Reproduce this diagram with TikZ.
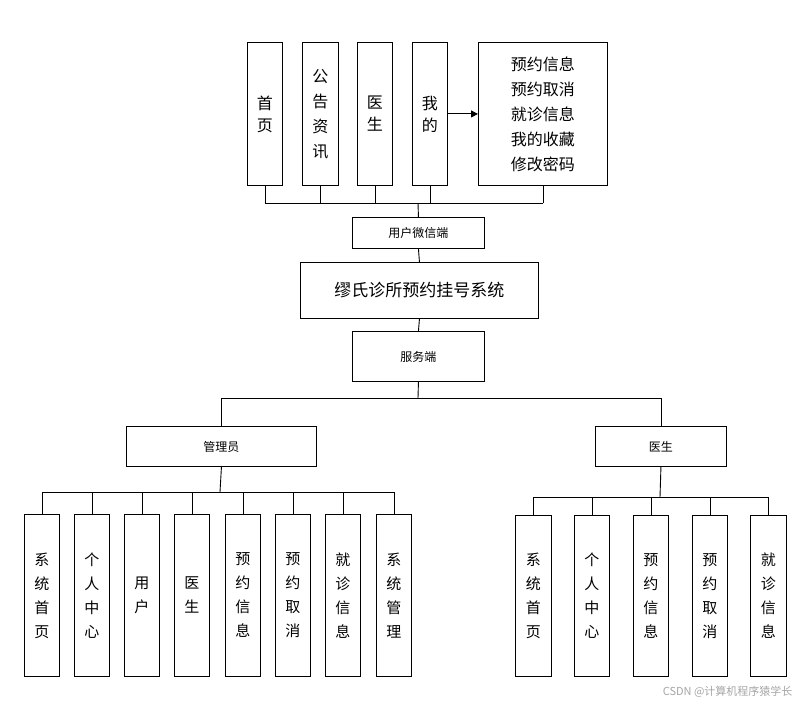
\documentclass[tikz,border=0pt]{standalone}
\usepackage{fontspec}
\setmainfont{Noto Sans CJK SC}
\usetikzlibrary{arrows.meta}
\begin{document}
\begin{tikzpicture}[x=1pt,y=-1pt,
  bx/.style={draw,line width=0.9pt,inner sep=0pt,align=center},
  ln/.style={line width=0.9pt}]
\useasboundingbox (0,0) rectangle (804,709);
\fill[white] (0,0) rectangle (804,709);
\def\vb#1#2#3#4#5#6{\node[bx,font=#6,minimum width=#3,minimum height=#4,anchor=north west,text width=#3] (#1) at (#2) {#5};}
% top
\vb{t1}{247,42}{35pt}{143pt}{首\\页}{\fontsize{16}{22}\selectfont}
\vb{t2}{302,42}{36pt}{143pt}{公\\告\\资\\讯}{\fontsize{16}{25}\selectfont}
\vb{t3}{357,42}{35pt}{143pt}{医\\生}{\fontsize{16}{22}\selectfont}
\vb{t4}{412,42}{35pt}{143pt}{我\\的}{\fontsize{16}{22}\selectfont}
\vb{t5}{478,42}{129pt}{143pt}{预约信息\\预约取消\\就诊信息\\我的收藏\\修改密码}{\fontsize{16}{25}\selectfont}
\draw[ln,-{Triangle[length=7pt,width=7pt]}] (t4.east) -- (t5.west);
\vb{wx}{352,217}{132pt}{31pt}{用户微信端}{\fontsize{12}{14}\selectfont}
\vb{sys}{300,262}{238pt}{56pt}{缪氏诊所预约挂号系统}{\fontsize{17}{20}\selectfont}
\vb{fw}{352,331}{132pt}{50pt}{服务端}{\fontsize{12}{14}\selectfont}
\coordinate (bus) at (418,203);
\foreach \n in {t1,t2,t3,t4,t5}{\draw[ln] (\n.south) -- (\n.south |- bus);}
\draw[ln] (t1.south |- bus) -- (t5.south |- bus);
\draw[ln] (bus) -- (wx.north);
\draw[ln] (wx.south) -- (sys.north);
\draw[ln] (sys.south) -- (fw.north);
\vb{adm}{126,426}{190pt}{40pt}{管理员}{\fontsize{12}{14}\selectfont}
\vb{doc}{595,426}{131pt}{40pt}{医生}{\fontsize{12}{14}\selectfont}
\coordinate (b2) at (418,398);
\draw[ln] (fw.south) -- (b2);
\draw[ln] (adm.north) -- (adm.north |- b2) -- (doc.north |- b2) -- (doc.north);
% admin children
\def\fs{\fontsize{15}{24}\selectfont}
\vb{a1}{24,514}{35pt}{162pt}{系\\统\\首\\页}{\fs}
\vb{a2}{74,514}{35pt}{162pt}{个\\人\\中\\心}{\fs}
\vb{a3}{124,514}{35pt}{162pt}{用\\户}{\fs}
\vb{a4}{174,514}{35pt}{162pt}{医\\生}{\fs}
\vb{a5}{225,514}{35pt}{162pt}{预\\约\\信\\息}{\fs}
\vb{a6}{275,514}{35pt}{162pt}{预\\约\\取\\消}{\fs}
\vb{a7}{325,514}{35pt}{162pt}{就\\诊\\信\\息}{\fs}
\vb{a8}{376,514}{35pt}{162pt}{系\\统\\管\\理}{\fs}
\coordinate (b3) at (220,492);
\draw[ln] (adm.south) -- (b3);
\draw[ln] (a1.north |- b3) -- (a8.north |- b3);
\foreach \n in {a1,a2,a3,a4,a5,a6,a7,a8}{\draw[ln] (\n.north |- b3) -- (\n.north);}
\vb{d1}{515,515}{36pt}{161pt}{系\\统\\首\\页}{\fs}
\vb{d2}{574,515}{35pt}{161pt}{个\\人\\中\\心}{\fs}
\vb{d3}{633,515}{35pt}{161pt}{预\\约\\信\\息}{\fs}
\vb{d4}{692,515}{35pt}{161pt}{预\\约\\取\\消}{\fs}
\vb{d5}{750,515}{36pt}{161pt}{就\\诊\\信\\息}{\fs}
\coordinate (b4) at (660,497);
\draw[ln] (doc.south) -- (b4);
\draw[ln] (d1.north |- b4) -- (d5.north |- b4);
\foreach \n in {d1,d2,d3,d4,d5}{\draw[ln] (\n.north |- b4) -- (\n.north);}
\node[anchor=east,text=gray!70,font=\fontsize{11}{12}\selectfont] (wm) at (796,692) {CSDN @计算机程序猿学长};
\end{tikzpicture}
\end{document}
